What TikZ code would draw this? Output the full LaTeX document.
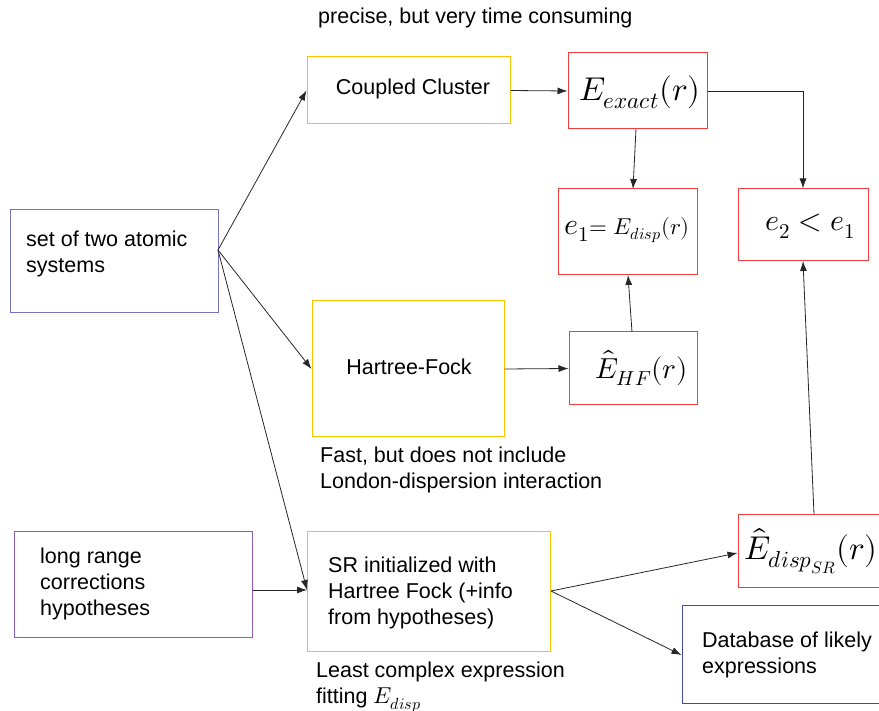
\documentclass[tikz,border=0pt]{standalone}
\usepackage{fontspec}
\usepackage{unicode-math}
\setmainfont{Liberation Sans}
\setmathfont{Latin Modern Math}
\usetikzlibrary{arrows.meta}
\definecolor{cblue}{HTML}{7474C4}
\definecolor{cpurple}{HTML}{8A5CC8}
\definecolor{cdark}{HTML}{4646B0}
\definecolor{cyel}{HTML}{FFC000}
\definecolor{cred}{HTML}{F03C3C}
\begin{document}
\begin{tikzpicture}[x=1pt,y=-1pt,
  box/.style={draw=#1, line width=1pt, inner sep=0pt, rectangle},
  txt/.style={font=\fontsize{21.5}{26}\selectfont, inner sep=0pt, align=left, anchor=north west},
  mth/.style={font=\fontsize{30}{34}\selectfont, inner sep=0pt},
  arr/.style={-{Latex[length=10pt,width=7pt]}, line width=0.8pt, draw=black!85}]
\useasboundingbox (0,0) rectangle (879,711);
\begin{scope}
\clip (0,0) rectangle (879,711);
% boxes
\node[box=cblue, minimum width=208pt, minimum height=103pt] (set) at (114,261.5) {};
\node[box=cyel, minimum width=203pt, minimum height=67pt] (cc) at (408.5,90.5) {};
\node[box=cred, minimum width=139pt, minimum height=76pt] (eex) at (637.5,91) {};
\node[box=cred, minimum width=139pt, minimum height=86pt] (e1) at (627.5,232) {};
\node[box=cred, minimum width=130pt, minimum height=72pt] (e2) at (803,225) {};
\node[box=cyel, minimum width=192pt, minimum height=136pt] (hf) at (408,369) {};
\node[box=cred, minimum width=128pt, minimum height=73pt] (ehf) at (633,368.5) {};
\node[box=cpurple, minimum width=238pt, minimum height=106pt] (lr) at (133,584) {};
\node[box=cyel, minimum width=243pt, minimum height=120pt] (sr) at (428.5,591) {};
\node[box=cred, minimum width=150pt, minimum height=73pt] (esr) at (813,550.5) {};
\node[box=cdark, minimum width=210pt, minimum height=98pt] (db) at (787,654) {};
\end{scope}
% texts
\node[txt, anchor=west] (tprec) at (318,18) {precise, but very time consuming};
\node[txt, anchor=center] (tcc) at (413,89) {Coupled Cluster};
\node[txt, anchor=center] (thf) at (409,367) {Hartree-Fock};
\node[txt] (tset) at (26,231) {set of two atomic\\systems};
\node[txt] (tlr) at (40,548) {long range\\corrections\\hypotheses};
\node[txt] (tsr) at (328,557) {SR initialized with\\Hartree Fock (+info\\from hypotheses)};
\node[txt] (tfast) at (320,447) {Fast, but does not include\\London-dispersion interaction};
\node[txt] (tleast) at (316,662) {Least complex expression\\fitting \fontsize{23}{26}\selectfont$E_{disp}$};
\node[txt] (tdb) at (702,632) {Database of likely\\expressions};
% math labels
\node[mth, anchor=west, font=\fontsize{33}{36}\selectfont] (lex) at (579,92) {$E_{exact}(r)$};
\node[mth, anchor=west] (le1) at (564,230) {$e_1$\fontsize{23}{26}\selectfont$=E_{disp}(r)$};
\node[mth, anchor=west] (le2) at (765,226) {$e_2 < e_1$};
\node[mth, anchor=west, font=\fontsize{29}{33}\selectfont] (lhf) at (595,368) {$\hat{E}_{HF}(r)$};
\node[mth, anchor=west, font=\fontsize{33}{36}\selectfont] (lsr) at (744,551) {$\hat{E}_{disp_{SR}}(r)$};
% connectors
\coordinate (fork) at (218,250);
\draw[arr] (fork) -- (cc.west);
\draw[arr] (fork) -- (hf.west);
\draw[arr] (fork) -- (307,590);
\draw[arr] (lr.east |- 0,590) -- (307,590);
\draw[arr] (cc.east) -- (eex.west);
\draw[arr] (636,129) -- (633,189);
\draw[arr] (eex.east) -| (e2.north);
\draw[arr] (hf.east |- 0,369) -- (ehf.west);
\draw[arr] (632,332) -- (628,275);
\draw[arr] (814,514) -- (803,261);
\draw[arr] (551,591) -- (esr.west |- 0,553);
\draw[arr] (551,591) -- (db.west |- 0,655);
\end{tikzpicture}
\end{document}
